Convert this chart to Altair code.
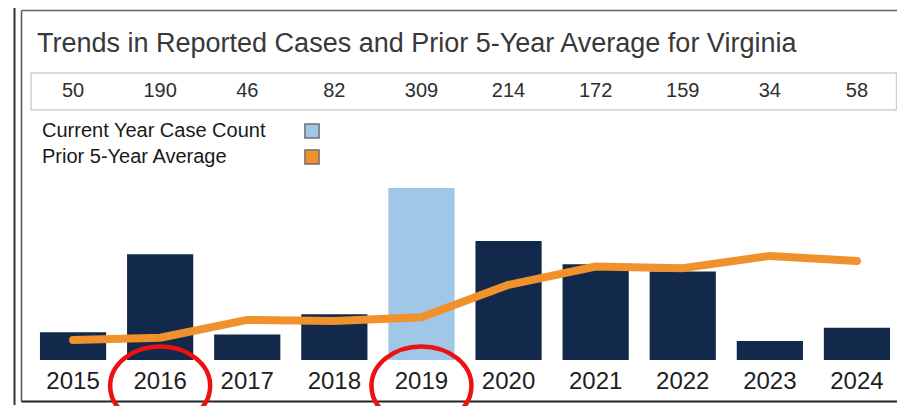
import altair as alt
import pandas as pd

# ---- data ----
years = ["2015", "2016", "2017", "2018", "2019", "2020", "2021", "2022", "2023", "2024"]
case_counts = [50, 190, 46, 82, 309, 214, 172, 159, 34, 58]
prior_5yr_avg = [36, 40, 72, 70, 77, 135, 168, 165, 187, 178]
highlight_year = "2019"
circled_years = ["2016", "2019"]
title_text = "Trends in Reported Cases and Prior 5-Year Average for Virginia"
legend_labels = ["Current Year Case Count", "Prior 5-Year Average"]

NAVY = "#13294B"
LIGHT = "#A0C6E8"
ORANGE = "#F0912C"
FONT = "Liberation Sans"

df = pd.DataFrame({
    "year": years,
    "cases": case_counts,
    "avg": prior_5yr_avg,
    "color": [LIGHT if y == highlight_year else NAVY for y in years],
})
circ = pd.DataFrame({"year": circled_years})
one = pd.DataFrame({"k": [0]})
leg = pd.DataFrame({"label": legend_labels, "fill": [LIGHT, ORANGE], "row": [0, 1]})

xs = alt.X("year:N", axis=None,
           scale=alt.Scale(range=[21.5, 892.5], paddingInner=0.24, paddingOuter=0.12))
ys = alt.Scale(domain=[0, 309], range=[352, 180], nice=False, zero=True)
leg_y = alt.Y("row:Q", scale=alt.Scale(domain=[0, 1], range=[123, 149], nice=False, zero=False), axis=None)

# decorative frame
frame_outer_left = alt.Chart(one).mark_rule(color="#333333", strokeWidth=2).encode(
    x=alt.value(6.5), y=alt.value(0), y2=alt.value(397))
frame_inner_left = alt.Chart(one).mark_rule(color="#555555", strokeWidth=1.5).encode(
    x=alt.value(13.5), y=alt.value(2.5), y2=alt.value(393.5))
frame_inner_top = alt.Chart(one).mark_rule(color="#666666", strokeWidth=1.5).encode(
    x=alt.value(13.5), x2=alt.value(900), y=alt.value(2.5))
frame_bottom = alt.Chart(one).mark_rule(color="#222222", strokeWidth=2).encode(
    x=alt.value(13.5), x2=alt.value(900), y=alt.value(393.5))

num_box = alt.Chart(one).mark_rect(fill="white", stroke="#cfcfcf", strokeWidth=1.5).encode(
    x=alt.value(23), x2=alt.value(888.5), y=alt.value(65), y2=alt.value(102))

title = alt.Chart(one).mark_text(
    text=title_text, font=FONT, fontSize=27, color="#383838", align="left", baseline="alphabetic"
).encode(x=alt.value(29), y=alt.value(43.5))

bars = alt.Chart(df).mark_bar().encode(
    x=xs,
    y=alt.Y("cases:Q", scale=ys, axis=None),
    color=alt.Color("color:N", scale=None),
)

line = alt.Chart(df).mark_line(color=ORANGE, strokeWidth=8, strokeCap="round", strokeJoin="round").encode(
    x=xs,
    y=alt.Y("avg:Q", scale=ys, axis=None),
)

nums = alt.Chart(df).mark_text(font=FONT, fontSize=20, color="#2e2e2e", baseline="middle").encode(
    x=xs, y=alt.value(82.5), text="cases:Q")

year_labels = alt.Chart(df).mark_text(font=FONT, fontSize=24, color="#1e1e1e", baseline="middle").encode(
    x=xs, y=alt.value(373.5), text="year:N")

ellipse = ("M -1 0 C -1 -0.4368 -0.5523 -0.79 0 -0.79 C 0.5523 -0.79 1 -0.4368 1 0 "
           "C 1 0.4368 0.5523 0.79 0 0.79 C -0.5523 0.79 -1 0.4368 -1 0 Z")
circles = alt.Chart(circ).mark_point(
    shape=ellipse, size=10000, filled=False, stroke="#EE1111", strokeWidth=4.5, opacity=1
).encode(x=xs, y=alt.value(378))

leg_sq = alt.Chart(leg).mark_point(shape="square", size=200, filled=True, stroke="#707070",
                                   strokeWidth=1.5, opacity=1).encode(
    x=alt.value(304),
    y=leg_y,
    fill=alt.Fill("fill:N", scale=None),
)
leg_txt = alt.Chart(leg).mark_text(font=FONT, fontSize=20, color="#1a1a1a", align="left",
                                   baseline="middle").encode(
    x=alt.value(34),
    y=leg_y,
    text="label:N",
)

chart = alt.layer(
    frame_outer_left, frame_inner_left, frame_inner_top, frame_bottom,
    num_box, title, bars, line, nums, year_labels, circles, leg_sq, leg_txt,
).resolve_scale(y="independent").properties(
    width=889, height=398, padding=0,
    autosize=alt.AutoSizeParams(type="none"),
    background="white",
).configure_view(stroke=None)

chart.save("out.html", embed_options={"renderer": "svg", "actions": False})
